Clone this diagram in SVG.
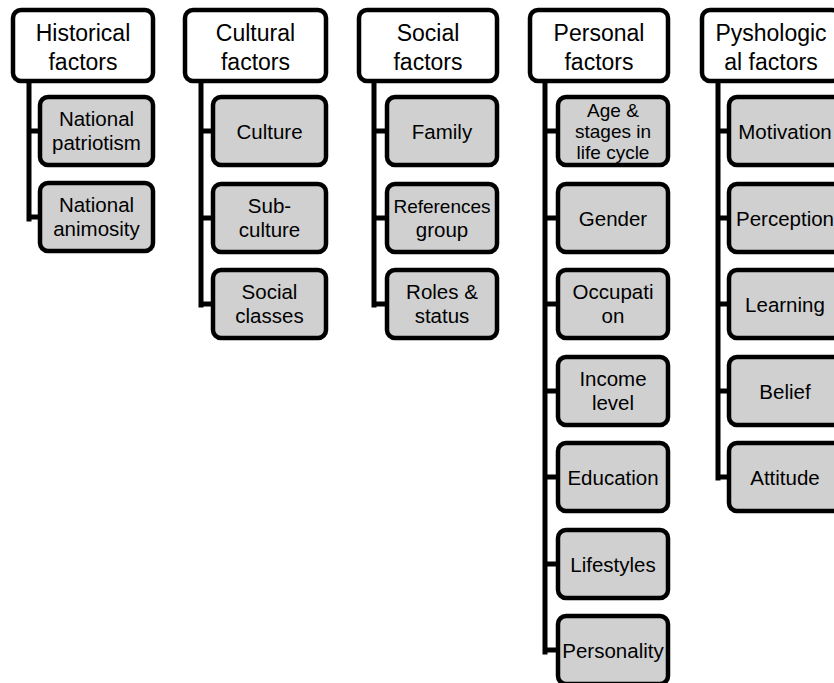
<svg xmlns="http://www.w3.org/2000/svg" width="834" height="683" viewBox="0 0 834 683">
<style>
.top{fill:#ffffff;stroke:#000;stroke-width:4.5}
.child{fill:#d0d0d0;stroke:#000;stroke-width:4.5}
.t{font-family:"Liberation Sans",Arial,sans-serif;font-size:23px;fill:#000;text-anchor:middle}
.c{font-family:"Liberation Sans",Arial,sans-serif;font-size:20.5px;fill:#000;text-anchor:middle}
.s{font-size:19px}
#connectors path{fill:none;stroke:#000;stroke-width:5;stroke-linecap:square}
</style>
<rect width="834" height="683" fill="#fff"/>
<g id="connectors">
<path d="M29,82 V219 M29,131 H40 M29,217 H40"/>
<path d="M201,82 V305 M201,131 H213 M201,218 H213 M201,304 H213"/>
<path d="M374,82 V305 M374,131 H387 M374,218 H387 M374,304 H387"/>
<path d="M545,82 V652 M545,131 H558 M545,218 H558 M545,304 H558 M545,391 H558 M545,477 H558 M545,564 H558 M545,650 H558"/>
<path d="M718,82 V478 M718,131 H729 M718,218 H729 M718,304 H729 M718,391 H729 M718,477 H729"/>
</g>
<g id="historical">
<rect class="top" x="13" y="10" width="140" height="71" rx="8"/>
<text class="t" x="83" y="41">Historical</text><text class="t" x="83" y="70">factors</text>
</g>
<g id="national-patriotism">
<rect class="child" x="40" y="97" width="113" height="68" rx="8"/>
<text class="c" x="96.5" y="126">National</text><text class="c" x="96.5" y="150">patriotism</text>
</g>
<g id="national-animosity">
<rect class="child" x="40" y="183" width="113" height="68" rx="8"/>
<text class="c" x="96.5" y="212">National</text><text class="c" x="96.5" y="236">animosity</text>
</g>
<g id="cultural">
<rect class="top" x="185" y="10" width="141" height="71" rx="8"/>
<text class="t" x="255.5" y="41">Cultural</text><text class="t" x="255.5" y="70">factors</text>
</g>
<g id="culture">
<rect class="child" x="213" y="97" width="113" height="68" rx="8"/>
<text class="c" x="269.5" y="139">Culture</text>
</g>
<g id="sub-culture">
<rect class="child" x="213" y="184" width="113" height="68" rx="8"/>
<text class="c" x="269.5" y="213">Sub-</text><text class="c" x="269.5" y="237">culture</text>
</g>
<g id="social-classes">
<rect class="child" x="213" y="270" width="113" height="68" rx="8"/>
<text class="c" x="269.5" y="299">Social</text><text class="c" x="269.5" y="323">classes</text>
</g>
<g id="social">
<rect class="top" x="359" y="10" width="138" height="71" rx="8"/>
<text class="t" x="428" y="41">Social</text><text class="t" x="428" y="70">factors</text>
</g>
<g id="family">
<rect class="child" x="387" y="97" width="110" height="68" rx="8"/>
<text class="c" x="442" y="139">Family</text>
</g>
<g id="references-group">
<rect class="child" x="387" y="184" width="110" height="68" rx="8"/>
<text class="c s" x="442" y="213">References</text><text class="c" x="442" y="237">group</text>
</g>
<g id="roles-status">
<rect class="child" x="387" y="270" width="110" height="68" rx="8"/>
<text class="c" x="442" y="299">Roles &amp;</text><text class="c" x="442" y="323">status</text>
</g>
<g id="personal">
<rect class="top" x="530" y="10" width="138" height="71" rx="8"/>
<text class="t" x="599" y="41">Personal</text><text class="t" x="599" y="70">factors</text>
</g>
<g id="age">
<rect class="child" x="558" y="97" width="110" height="68" rx="8"/>
<text class="c s" x="613" y="117">Age &amp;</text><text class="c s" x="613" y="138">stages in</text><text class="c s" x="613" y="159">life cycle</text>
</g>
<g id="gender">
<rect class="child" x="558" y="184" width="110" height="68" rx="8"/>
<text class="c" x="613" y="226">Gender</text>
</g>
<g id="occupation">
<rect class="child" x="558" y="270" width="110" height="68" rx="8"/>
<text class="c" x="613" y="299">Occupati</text><text class="c" x="613" y="323">on</text>
</g>
<g id="income">
<rect class="child" x="558" y="357" width="110" height="68" rx="8"/>
<text class="c" x="613" y="386">Income</text><text class="c" x="613" y="410">level</text>
</g>
<g id="education">
<rect class="child" x="558" y="443" width="110" height="68" rx="8"/>
<text class="c" x="613" y="485">Education</text>
</g>
<g id="lifestyles">
<rect class="child" x="558" y="530" width="110" height="68" rx="8"/>
<text class="c" x="613" y="572">Lifestyles</text>
</g>
<g id="personality">
<rect class="child" x="558" y="616" width="110" height="68" rx="8"/>
<text class="c" x="613" y="658">Personality</text>
</g>
<g id="psychological">
<rect class="top" x="702" y="10" width="138" height="71" rx="8"/>
<text class="t" x="771" y="41">Pyshologic</text><text class="t" x="771" y="70">al factors</text>
</g>
<g id="motivation">
<rect class="child" x="729" y="97" width="112" height="68" rx="8"/>
<text class="c" x="785" y="139">Motivation</text>
</g>
<g id="perception">
<rect class="child" x="729" y="184" width="112" height="68" rx="8"/>
<text class="c" x="785" y="226">Perception</text>
</g>
<g id="learning">
<rect class="child" x="729" y="270" width="112" height="68" rx="8"/>
<text class="c" x="785" y="312">Learning</text>
</g>
<g id="belief">
<rect class="child" x="729" y="357" width="112" height="68" rx="8"/>
<text class="c" x="785" y="399">Belief</text>
</g>
<g id="attitude">
<rect class="child" x="729" y="443" width="112" height="68" rx="8"/>
<text class="c" x="785" y="485">Attitude</text>
</g>
</svg>
